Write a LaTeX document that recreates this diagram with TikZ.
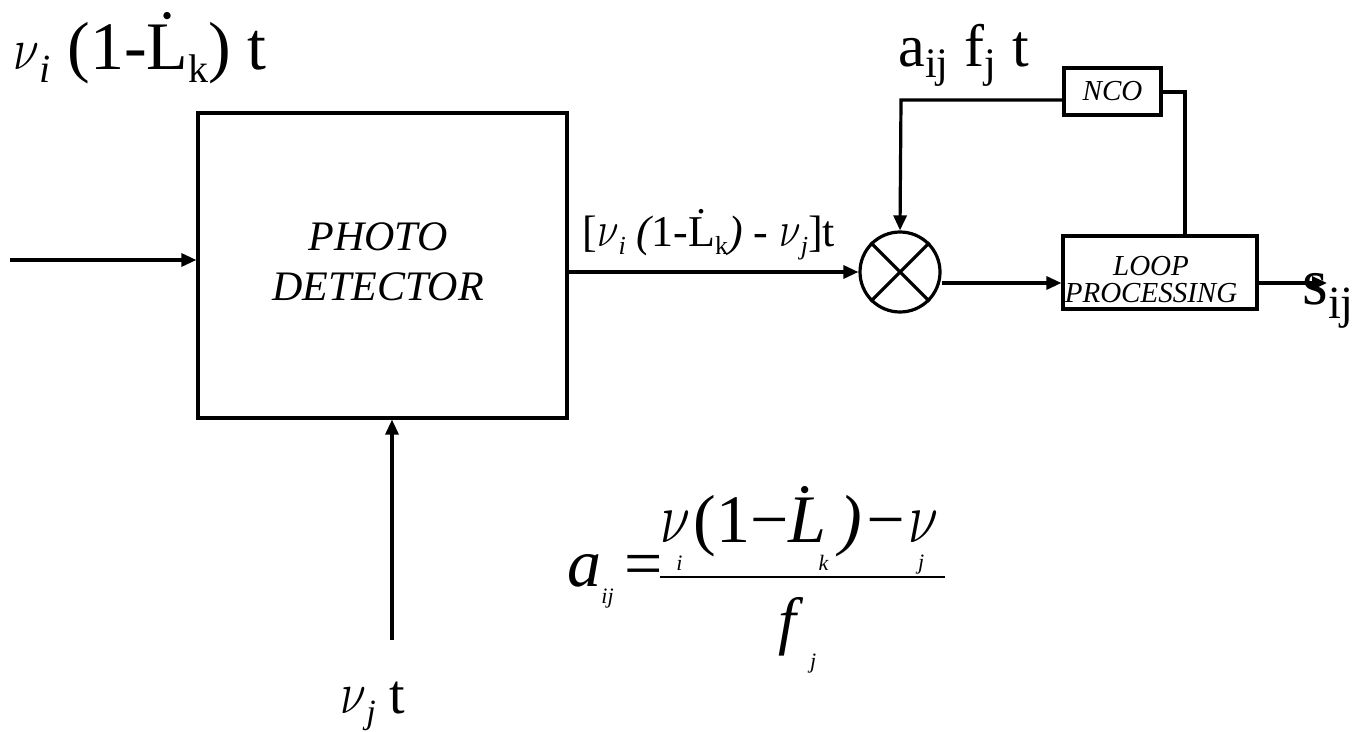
\documentclass[tikz,border=0pt]{standalone}
\usepackage{graphicx}
\usepackage{fontspec}
\setmainfont{Liberation Serif}
\usetikzlibrary{positioning,calc,arrows.meta}

% small subscripts set low, as in the formula
\newcommand{\lowsub}[2]{\raisebox{#1}{\fontsize{11pt}{11pt}\selectfont\itshape #2}}
\newcommand{\undersub}[3]{\kern#1\lowsub{#2}{#3}}
% subscripts of the signal labels
\newcommand{\sbs}[2]{\raisebox{-0.18em}{\fontsize{#1}{#1}\selectfont #2}}
\newcommand{\nuit}{\scalebox{0.95}[1.2]{$\nu$}}
\newcommand{\nubig}{\scalebox{1.1}[1.45]{$\nu$}}

\tikzset{
  blk/.style={draw, line width=1.6pt, inner sep=0pt},
  arr/.style={line width=1.6pt, -{Triangle[length=7.5pt,width=6.5pt]}},
  wire/.style={line width=1.6pt},
  lbl/.style={anchor=base west, inner sep=0pt},
}

\begin{document}
\begin{tikzpicture}[x=0.5pt,y=-0.5pt]
  \useasboundingbox (0,0) rectangle (1363,732);

  % Draw the blocks
  \node[blk, minimum width=184.5pt, minimum height=152.5pt] (pd) at (382.5,265.5) {};
  \node[font=\fontsize{21}{25}\selectfont\itshape, align=center] (pdtxt) at (378,262) {PHOTO\\DETECTOR};
  \node[blk, circle, minimum size=40pt] (mix) at (900,272) {};
  \draw[wire] (mix.north west) -- (mix.south east);
  \draw[wire] (mix.north east) -- (mix.south west);
  \node[blk, minimum width=97pt, minimum height=36.5pt] (loop) at (1160,272.5) {};
  \node[font=\fontsize{14.5}{13.5}\selectfont\itshape, align=center] (looptxt) at (1151,280) {LOOP\\PROCESSING};
  \node[blk, minimum width=48.5pt, minimum height=23.5pt, font=\fontsize{14.5}{16}\selectfont\itshape] (nco) at (1112.5,91.5) {NCO};

  % Inputs, outputs and the loop
  \coordinate (inL) at (10,260);
  \coordinate (inB) at (392,640);
  \coordinate (out) at (1327,283);
  \coordinate (fb) at (1185,92);
  \coordinate (tap) at (901,100);
  \draw[arr] (inL) -- (pd.west |- inL);
  \draw[arr] (inB) -- (inB |- pd.south);
  \draw[arr] (pd.east |- mix) -- (mix);
  \draw[arr] (mix.east |- out) -- ($(loop.west)+(0,10.5)$);
  \draw[arr] (loop.east |- out) -- (out);
  \draw[wire] (fb |- loop.north) -- (fb) -- (nco.east |- fb);
  \draw[arr] (nco.west |- tap) -- (tap) -- (mix.north);

  % Signal labels
  \node[lbl, font=\fontsize{34}{40}\selectfont] (sigL) at (13,70) {\nuit\sbs{20pt}{\itshape i} (1-\.{L}\sbs{20pt}{k}) t};
  \node[lbl, font=\fontsize{22}{26}\selectfont] (sigM) at (582,247) {[\nuit\sbs{13pt}{\itshape i} {\itshape (}1-\.{L}\sbs{13pt}{k}{\itshape )} - \nuit\sbs{13pt}{\itshape j}]t};
  \node[lbl, font=\fontsize{30}{36}\selectfont] (sigN) at (898,67) {a\textsubscript{ij} f\textsubscript{j} t};
  \node[lbl, font=\fontsize{33}{40}\selectfont] (sigS) at (1302,305) {s\textsubscript{ij}};
  \node[lbl, font=\fontsize{28}{34}\selectfont] (sigB) at (340,713) {\nuit\sbs{17pt}{\itshape j} t};

  % The formula for a_ij
  \node[lbl, font=\fontsize{34}{40}\selectfont] (eqA) at (567,586) {\itshape a\lowsub{-8.5pt}{ij}\upshape\,=};
  \node[lbl, font=\fontsize{34}{40}\selectfont] (eqN) at (660,542) {\nubig\undersub{-7pt}{-14pt}{i}\,(1−\.{\itshape L}\undersub{-4pt}{-14pt}{k}\,)−\nubig\undersub{-10pt}{-13.5pt}{j}};
  \node[lbl, font=\fontsize{32}{38}\selectfont] (eqD) at (778,642) {\itshape f\hspace{7pt}\lowsub{-13pt}{j}};
  \draw[line width=1pt] (eqN.south west |- 655,577) -- (945,577);
\end{tikzpicture}
\end{document}
